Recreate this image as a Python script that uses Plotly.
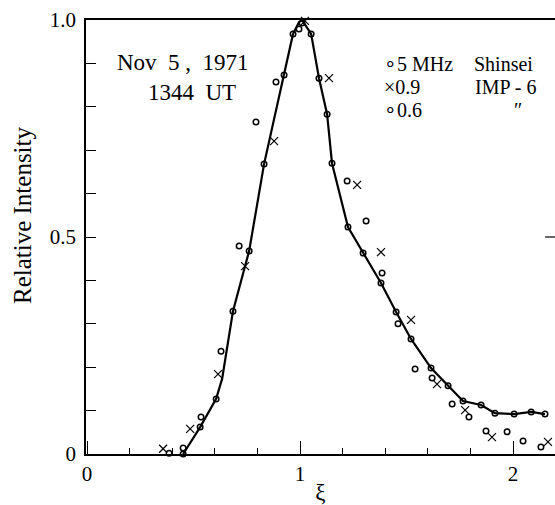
import plotly.graph_objects as go

# Smooth curve drawn through the 5 MHz Shinsei data
curve_x = [0.451, 0.531, 0.606, 0.634, 0.685, 0.761, 0.831, 0.925, 0.967, 0.995, 1.009,
           1.052, 1.089, 1.127, 1.150, 1.225, 1.296, 1.380, 1.451, 1.521, 1.615, 1.695,
           1.765, 1.850, 1.915, 2.005, 2.085, 2.150]
curve_y = [0.0, 0.062, 0.127, 0.173, 0.329, 0.468, 0.668, 0.873, 0.968, 0.995, 1.0,
           0.968, 0.866, 0.783, 0.670, 0.523, 0.463, 0.394, 0.327, 0.265, 0.198, 0.157,
           0.122, 0.113, 0.094, 0.092, 0.097, 0.092]

# 5 MHz Shinsei
shinsei_x = [0.451, 0.531, 0.606, 0.685, 0.761, 0.831, 0.925, 0.967, 0.995, 1.009,
             1.052, 1.089, 1.127, 1.150, 1.225, 1.296, 1.380, 1.451, 1.521, 1.615, 1.695,
             1.765, 1.850, 1.915, 2.005, 2.085, 2.150]
shinsei_y = [0.0, 0.062, 0.127, 0.329, 0.468, 0.668, 0.873, 0.968, 0.979, 0.993,
             0.968, 0.866, 0.783, 0.670, 0.523, 0.463, 0.394, 0.327, 0.265, 0.198, 0.157,
             0.122, 0.113, 0.094, 0.092, 0.097, 0.092]

# 0.9 MHz IMP-6
imp09_x = [0.357, 0.484, 0.615, 0.742, 0.878, 1.023, 1.136, 1.268, 1.380, 1.521,
           1.643, 1.775, 1.901, 2.164]
imp09_y = [0.012, 0.058, 0.184, 0.433, 0.721, 0.998, 0.866, 0.620, 0.465, 0.309,
           0.161, 0.101, 0.039, 0.028]

# 0.6 MHz IMP-6
imp06_x = [0.385, 0.451, 0.535, 0.629, 0.714, 0.793, 0.887, 1.221, 1.310, 1.385,
           1.460, 1.540, 1.620, 1.714, 1.793, 1.873, 1.972, 2.047, 2.131]
imp06_y = [0.002, 0.014, 0.085, 0.237, 0.479, 0.765, 0.857, 0.629, 0.537, 0.417,
           0.300, 0.196, 0.175, 0.115, 0.085, 0.053, 0.051, 0.030, 0.016]

y_tickvals = [0, 0.5, 1.0]
y_ticktext = ["0", "0.5", "1.0"]
x_tickvals = [0, 1, 2]
x_ticktext = ["0", "1", "2"]

FONT = "Liberation Serif"
fig = go.Figure()

fig.add_trace(go.Scatter(x=curve_x, y=curve_y, mode="lines",
                         line=dict(color="black", width=2.2), cliponaxis=False,
                         showlegend=False))
fig.add_trace(go.Scatter(x=shinsei_x, y=shinsei_y, mode="markers",
                         marker=dict(symbol="circle-open", size=5.5, color="black",
                                     line=dict(width=1.5, color="black")),
                         cliponaxis=False, showlegend=False, name="5 MHz Shinsei"))
fig.add_trace(go.Scatter(x=imp09_x, y=imp09_y, mode="markers",
                         marker=dict(symbol="x-thin-open", size=8, color="black",
                                     line=dict(width=1.2, color="black")),
                         cliponaxis=False, showlegend=False, name="0.9 IMP-6"))
fig.add_trace(go.Scatter(x=imp06_x, y=imp06_y, mode="markers",
                         marker=dict(symbol="circle-open", size=5.5, color="black",
                                     line=dict(width=1.5, color="black")),
                         cliponaxis=False, showlegend=False, name="0.6 IMP-6"))

# legend rows (y in data units) and texts
row_y = [0.899, 0.846, 0.793]
annots = [
    dict(x=0.451, y=0.901, text="Nov  5 ,  1971", xanchor="center", size=23),
    dict(x=0.493, y=0.834, text="1344  UT", xanchor="center", size=23),
    dict(x=1.385, y=row_y[0], text="∘5 MHz", xanchor="left", size=20),
    dict(x=1.385, y=row_y[1], text="×0.9", xanchor="left", size=20),
    dict(x=1.385, y=row_y[2], text="∘0.6", xanchor="left", size=20),
    dict(x=1.808, y=row_y[0], text="Shinsei", xanchor="left", size=20),
    dict(x=1.812, y=row_y[1], text="IMP - 6", xanchor="left", size=20),
    dict(x=2.023, y=row_y[2], text="″", xanchor="center", size=20),
]
for a in annots:
    fig.add_annotation(x=a["x"], y=a["y"], xref="x", yref="y", text=a["text"],
                       xanchor=a["xanchor"], yanchor="middle", showarrow=False,
                       font=dict(family=FONT, size=a["size"], color="black"))

# y-axis title placed as in the original
fig.add_annotation(x=-0.134, y=0.551, xref="paper", yref="y", text="Relative Intensity",
                   textangle=-90, xanchor="center", yanchor="middle", showarrow=False,
                   font=dict(family=FONT, size=25, color="black"))

# right-axis tick at 0.5 (axis itself lies just outside the picture)
fig.add_shape(type="line", xref="paper", yref="y", x0=0.979, x1=1.0, y0=0.5, y1=0.5,
              line=dict(color="black", width=1.2))

fig.update_layout(
    width=555, height=505,
    margin=dict(l=86, r=0, t=20, b=51),
    paper_bgcolor="white", plot_bgcolor="white",
    font=dict(family=FONT, color="black"),
    showlegend=False,
)
fig.update_xaxes(
    range=[-0.005, 2.197], showgrid=False, zeroline=False,
    showline=True, linecolor="black", linewidth=1.5, mirror=True,
    tickmode="array", tickvals=x_tickvals, ticktext=x_ticktext,
    ticks="inside", ticklen=13, tickwidth=1.2, tickcolor="black",
    minor=dict(dtick=0.2, ticks="inside", ticklen=6, tickwidth=1.2, tickcolor="black", showgrid=False),
    tickfont=dict(family=FONT, size=21, color="black"),
    title=dict(text="ξ", font=dict(family=FONT, size=23, color="black"), standoff=0),
)
fig.update_yaxes(
    range=[0, 1.0], showgrid=False, zeroline=False,
    showline=True, linecolor="black", linewidth=1.5,
    tickmode="array", tickvals=y_tickvals, ticktext=y_ticktext,
    ticks="inside", ticklen=10, tickwidth=1.2, tickcolor="black",
    minor=dict(dtick=0.1, ticks="inside", ticklen=10, tickwidth=1.2, tickcolor="black", showgrid=False),
    tickfont=dict(family=FONT, size=21, color="black"),
    ticklabelstandoff=4,
)

fig.write_html("out.html")
